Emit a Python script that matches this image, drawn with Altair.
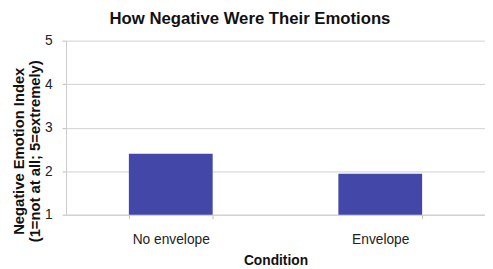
import altair as alt
import pandas as pd

conditions = ["No envelope", "Envelope"]
values = [2.4, 1.94]
baseline = [1, 1]

df = pd.DataFrame({"Condition": conditions, "Value": values, "Base": baseline})

FONT = "Liberation Sans"

chart = alt.Chart(df).mark_bar(color="#4347A8").encode(
    x=alt.X(
        "Condition:N",
        sort=conditions,
        scale=alt.Scale(paddingInner=0.6, paddingOuter=0.3),
        axis=alt.Axis(
            title="Condition",
            labelAngle=0,
            labelFontSize=14,
            labelColor="#222222",
            labelPadding=14,
            titleFontSize=14,
            titleFontWeight="bold",
            titleColor="#111111",
            titlePadding=8,
            tickBand="extent",
            tickSize=4,
            tickColor="#bbbbbb",
            domainColor="#cccccc",
        ),
    ),
    y=alt.Y(
        "Value:Q",
        scale=alt.Scale(domain=[1, 5], zero=False, nice=False),
        axis=alt.Axis(
            title=["Negative Emotion Index", "(1=not at all; 5=extremely)"],
            values=[1, 2, 3, 4, 5],
            labelFontSize=14,
            labelColor="#222222",
            labelPadding=10,
            tickSize=4,
            tickColor="#bbbbbb",
            domainColor="#cccccc",
            gridColor="#d0d0d0",
            titleFontSize=15,
            titleFontWeight="bold",
            titleColor="#111111",
            titleAngle=270,
            titleAlign="center",
            titleBaseline="top",
            titleX=-55,
            titleY=112,
            titleLineHeight=16,
        ),
    ),
    y2="Base:Q",
).properties(
    width=426,
    height=177,
    title=alt.TitleParams(
        "How Negative Were Their Emotions",
        fontSize=17,
        fontWeight="bold",
        font=FONT,
        color="#111111",
        anchor="middle",
        dx=-26,
        offset=6,
    ),
    autosize=alt.AutoSizeParams(type="none"),
    padding={"left": 59, "top": 31, "right": 0, "bottom": 52},
).configure(
    font=FONT,
).configure_view(
    stroke=None,
).configure_axis(
    labelFont=FONT,
    titleFont=FONT,
)

chart.save("out.html", embed_options={"renderer": "svg", "actions": False})
